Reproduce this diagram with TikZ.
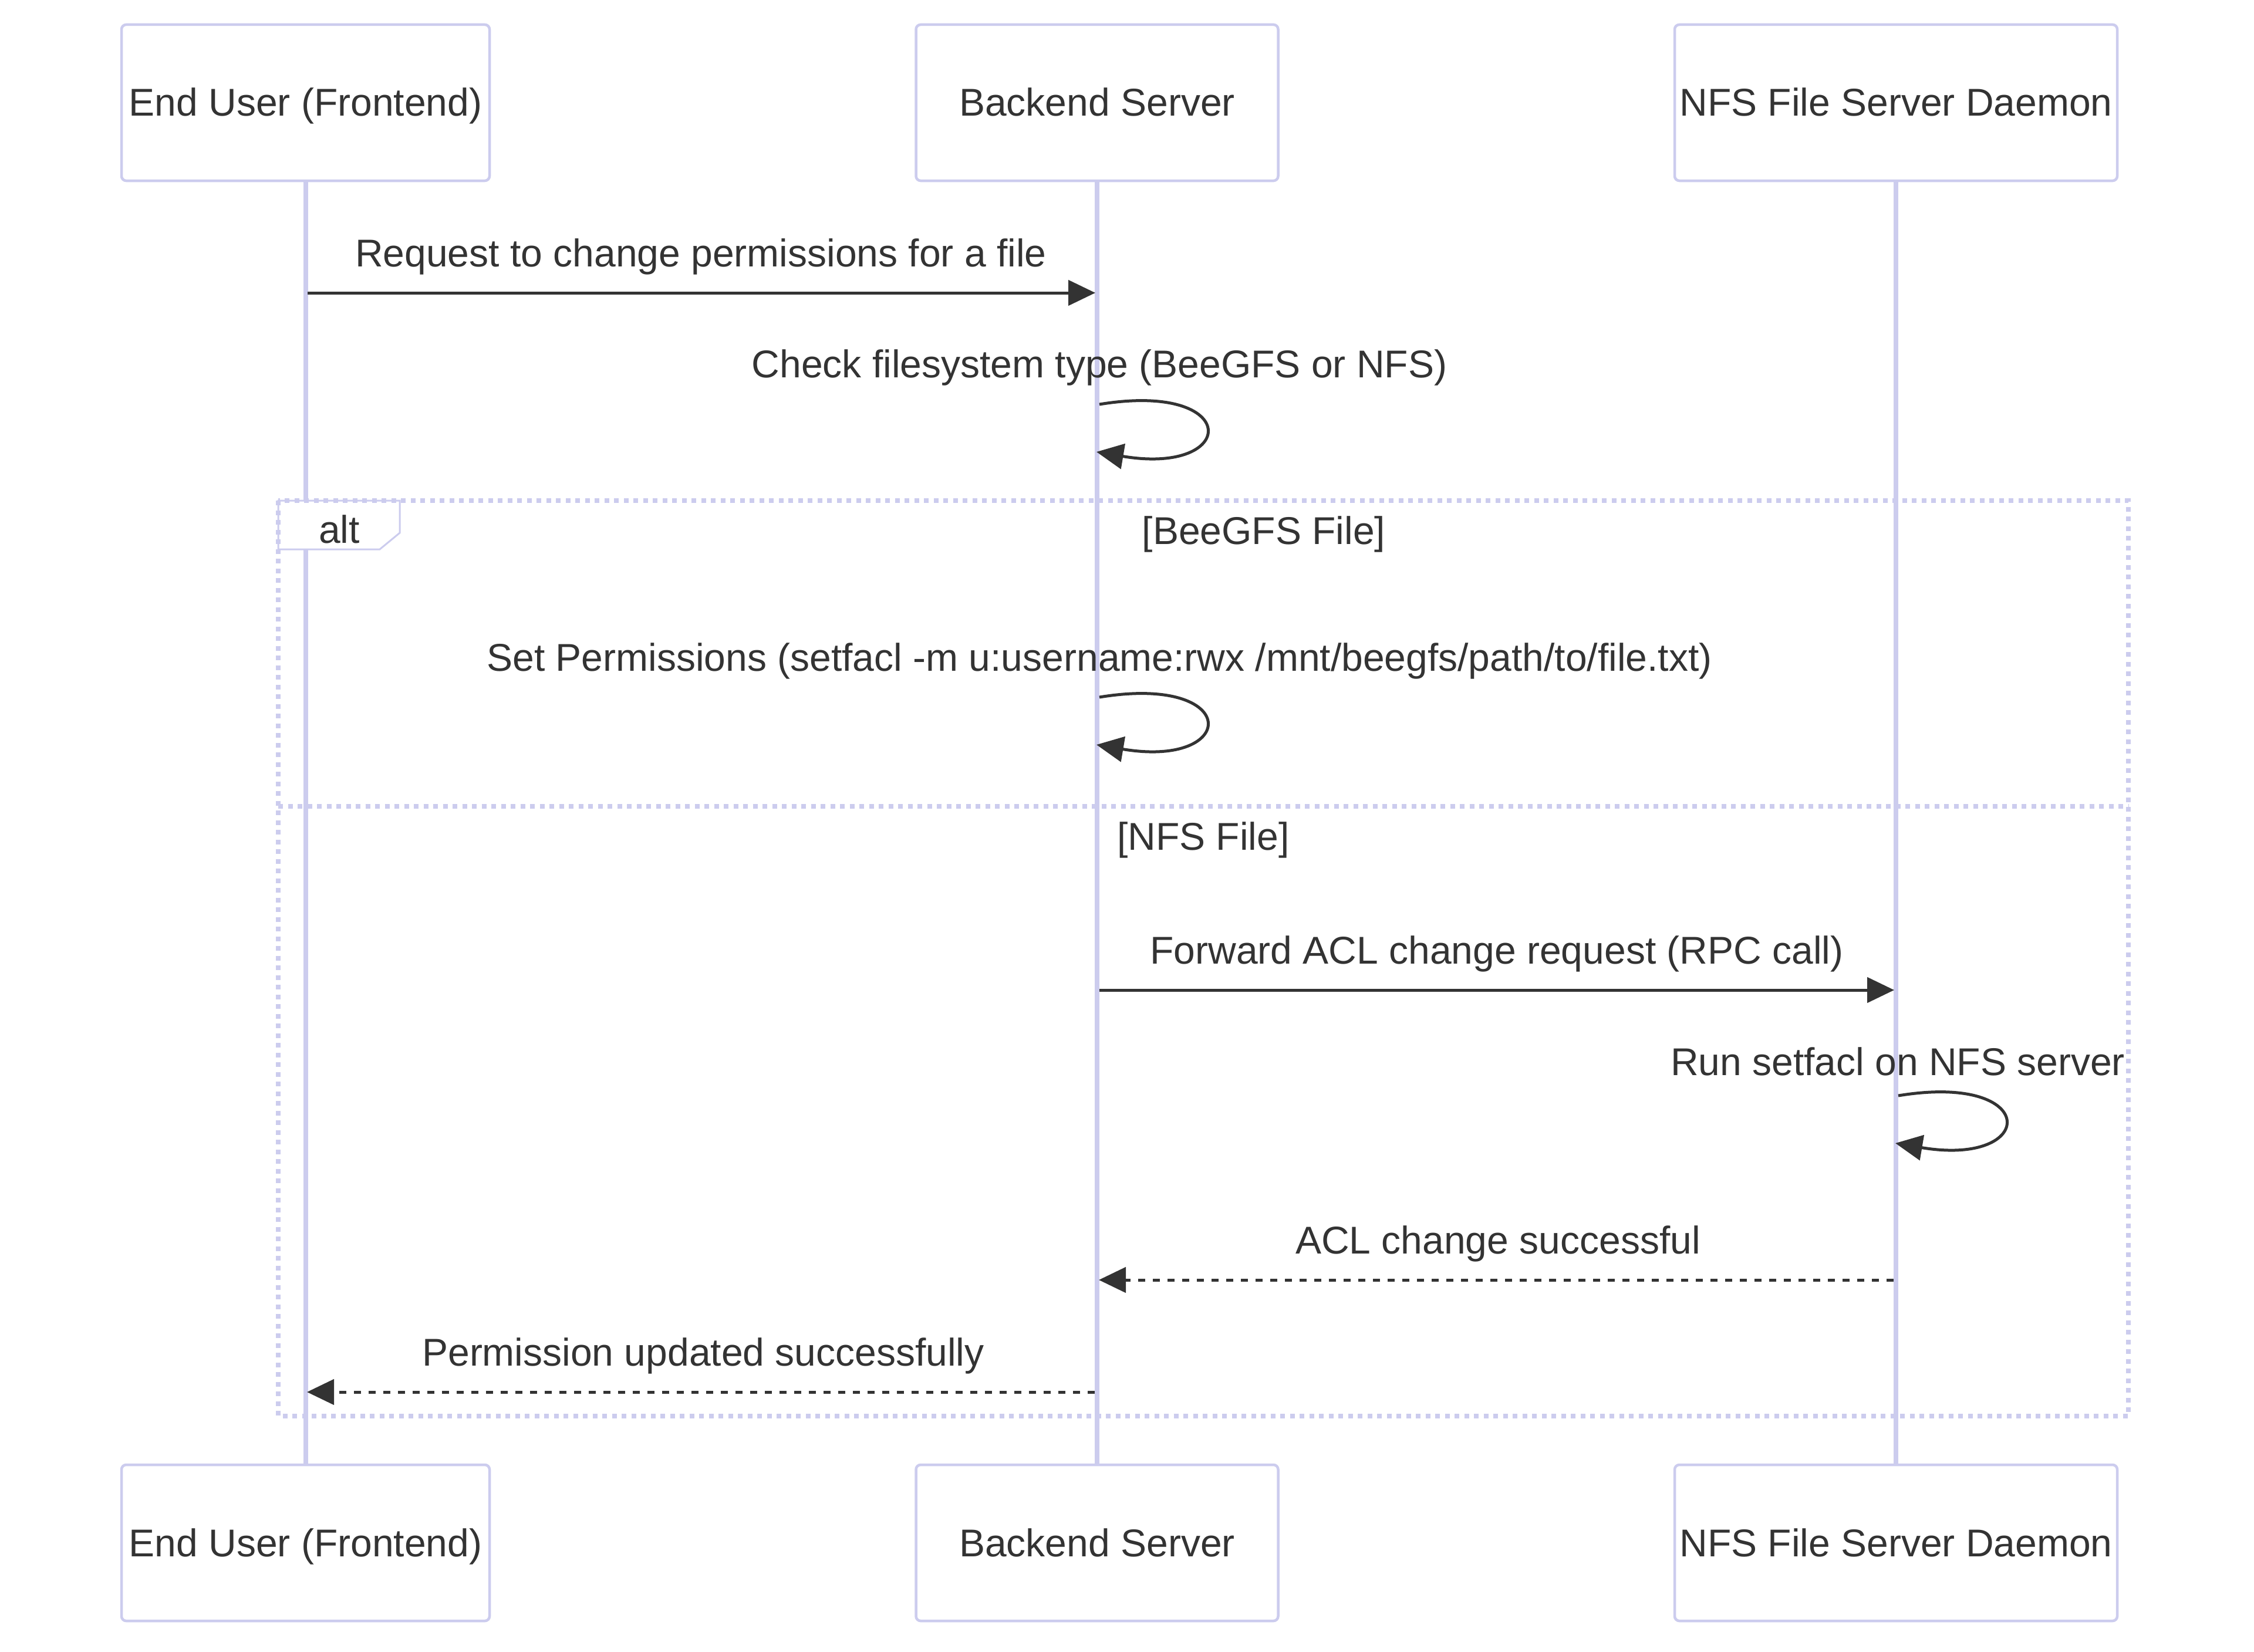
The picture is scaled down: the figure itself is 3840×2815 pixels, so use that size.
\documentclass[tikz,border=0pt]{standalone}
\usepackage{fontspec}
\setmainfont{Liberation Sans}
\usetikzlibrary{arrows.meta}
\definecolor{lav}{RGB}{204,204,238}
\definecolor{ink}{RGB}{51,51,51}
\tikzset{
  txt/.style={font=\fontsize{66}{79}\selectfont, text=ink, inner sep=0pt},
  actorbox/.style={txt, draw=lav, line width=4.5pt, rounded corners=8pt, fill=white,
    minimum height=266pt, text height=46pt, text depth=0pt},
  lifeline/.style={draw=lav, line width=8pt},
  msgline/.style={draw=ink, line width=5pt, -{Triangle[length=46pt,width=43pt]}},
  replyline/.style={msgline, dash pattern=on 12pt off 13pt},
  framebox/.style={draw=lav, line width=8pt, dash pattern=on 8pt off 8.5pt},
  lbl/.style={txt, anchor=base},
}
\begin{document}
\begin{tikzpicture}[x=1pt,y=-1pt]
\useasboundingbox[fill=white] (0,0) rectangle (3840,2815);

% actors
\node[actorbox, minimum width=627pt] (u1t) at (520.5,175) {End User (Frontend)};
\node[actorbox, minimum width=617pt] (u2t) at (1869,175) {Backend Server};
\node[actorbox, minimum width=754pt] (u3t) at (3230,175) {NFS File Server Daemon};
\node[actorbox, minimum width=627pt] (u1b) at (520.5,2629) {End User (Frontend)};
\node[actorbox, minimum width=617pt] (u2b) at (1869,2629) {Backend Server};
\node[actorbox, minimum width=754pt] (u3b) at (3230,2629) {NFS File Server Daemon};

% lifelines
\draw[lifeline] (u1t.south) -- (u1b.north);
\draw[lifeline] (u2t.south) -- (u2b.north);
\draw[lifeline] (u3t.south) -- (u3b.north);

% alt frame
\draw[draw=lav, line width=3pt, fill=white] (474,853) -- (681,853) -- (681,908) -- (647,936) -- (474,936) -- cycle;
\draw[framebox] (474,853) rectangle (3626,2413);
\draw[framebox] (474,1374) -- (3626,1374);
\node[lbl] (altt) at (578,925) {alt};
\node[lbl] (g1) at (2153,927) {[BeeGFS File]};
\node[lbl] (g2) at (2050,1448) {[NFS File]};

% message anchor points
\coordinate (m1a) at (524,499);   \coordinate (m1b) at (1866,499);
\coordinate (m2a) at (1873,689);  \coordinate (m2b) at (1868,770);
\coordinate (m3a) at (1873,1188); \coordinate (m3b) at (1868,1269);
\coordinate (m4a) at (1873,1687); \coordinate (m4b) at (3227,1687);
\coordinate (m5a) at (3234,1867); \coordinate (m5b) at (3229,1948);
\coordinate (m6a) at (3226,2181); \coordinate (m6b) at (1872,2181);
\coordinate (m7a) at (1865,2372); \coordinate (m7b) at (523,2372);

% messages
\draw[msgline] (m1a) -- (m1b);
\node[lbl] (t1) at (1194,454) {Request to change permissions for a file};

\draw[msgline] (m2a) .. controls ([shift={(243,-40)}]m2a) and ([shift={(243,41)}]m2b) .. (m2b);
\node[lbl] (t2) at (1873,643) {Check filesystem type (BeeGFS or NFS)};

\draw[msgline] (m3a) .. controls ([shift={(243,-40)}]m3a) and ([shift={(243,41)}]m3b) .. (m3b);
\node[lbl] (t3) at (1873,1143) {Set Permissions (setfacl -m u:username:rwx /mnt/beegfs/path/to/file.txt)};

\draw[msgline] (m4a) -- (m4b);
\node[lbl] (t4) at (2550,1642) {Forward ACL change request (RPC call)};

\draw[msgline] (m5a) .. controls ([shift={(243,-40)}]m5a) and ([shift={(243,41)}]m5b) .. (m5b);
\node[lbl] (t5) at (3233,1832) {Run setfacl on NFS server};

\draw[replyline] (m6a) -- (m6b);
\node[lbl] (t6) at (2552,2136) {ACL change successful};

\draw[replyline] (m7a) -- (m7b);
\node[lbl] (t7) at (1198,2327) {Permission updated successfully};
\end{tikzpicture}
\end{document}
